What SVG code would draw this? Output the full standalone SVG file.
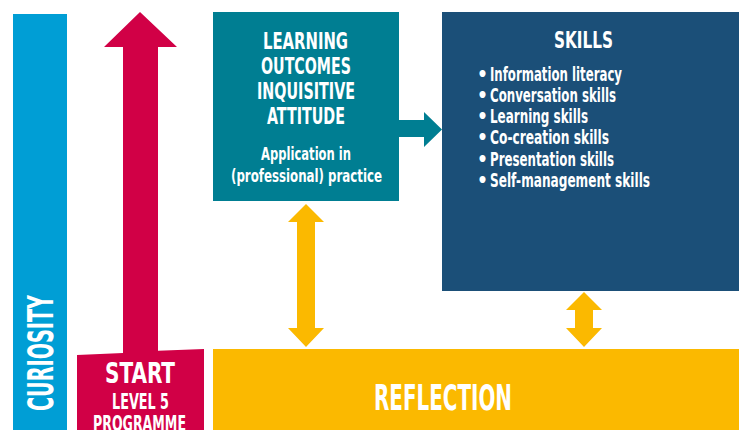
<svg xmlns="http://www.w3.org/2000/svg" width="746" height="430" viewBox="0 0 746 430">
  <style>
    text { font-family: "DejaVu Sans Condensed", "Liberation Sans", Arial, sans-serif; fill: #ffffff; font-weight: bold; }
    .mid { text-anchor: middle; }
    .big { font-size: 35px; }
    .head { font-size: 23px; }
    .sub { font-size: 18px; }
    .item { font-size: 19px; }
    .yellow { fill: #fbb900; }
  </style>

  <!-- Curiosity bar -->
  <g id="curiosity">
    <rect x="13" y="14" width="54" height="416" fill="#009ed5"/>
    <text class="mid big" transform="translate(53 353) rotate(-90)" textLength="116" lengthAdjust="spacingAndGlyphs">CURIOSITY</text>
  </g>

  <!-- Start block with the upward arrow -->
  <g id="start">
    <path d="M140 12 L177 47 L158 47 L158 350.8 L204 349 L204 430 L77 430 L77 355 L123 352.9 L123 47 L104 47 Z" fill="#d10046"/>
    <text class="mid" x="140" y="383" font-size="29" textLength="70" lengthAdjust="spacingAndGlyphs">START</text>
    <text class="mid" x="140.5" y="409" font-size="21" textLength="57" lengthAdjust="spacingAndGlyphs">LEVEL 5</text>
    <text class="mid" x="139.5" y="431" font-size="21" textLength="93" lengthAdjust="spacingAndGlyphs">PROGRAMME</text>
  </g>

  <!-- Learning outcomes -->
  <g id="learning-outcomes">
    <rect x="213" y="12" width="186" height="189" fill="#007e92"/>
    <text class="mid head" x="305.5" y="49" textLength="85" lengthAdjust="spacingAndGlyphs">LEARNING</text>
    <text class="mid head" x="306" y="74" textLength="90" lengthAdjust="spacingAndGlyphs">OUTCOMES</text>
    <text class="mid head" x="306" y="99" textLength="98" lengthAdjust="spacingAndGlyphs">INQUISITIVE</text>
    <text class="mid head" x="306" y="124" textLength="78" lengthAdjust="spacingAndGlyphs">ATTITUDE</text>
    <text class="mid sub" x="306" y="160" textLength="90" lengthAdjust="spacingAndGlyphs">Application in</text>
    <text class="mid sub" x="306.5" y="182" textLength="151" lengthAdjust="spacingAndGlyphs">(professional) practice</text>
  </g>

  <!-- Skills -->
  <g id="skills">
    <rect x="442" y="12" width="297" height="279" fill="#1b4f78"/>
    <text class="mid head" x="583.5" y="48" textLength="59" lengthAdjust="spacingAndGlyphs">SKILLS</text>
    <g class="item">
      <text x="477" y="81">•</text>
      <text x="490" y="81" textLength="132" lengthAdjust="spacingAndGlyphs">Information literacy</text>
      <text x="477" y="102">•</text>
      <text x="490" y="102" textLength="126" lengthAdjust="spacingAndGlyphs">Conversation skills</text>
      <text x="477" y="123">•</text>
      <text x="490" y="123" textLength="98" lengthAdjust="spacingAndGlyphs">Learning skills</text>
      <text x="477" y="144">•</text>
      <text x="490" y="144" textLength="119" lengthAdjust="spacingAndGlyphs">Co-creation skills</text>
      <text x="477" y="166">•</text>
      <text x="490" y="166" textLength="124" lengthAdjust="spacingAndGlyphs">Presentation skills</text>
      <text x="477" y="187">•</text>
      <text x="490" y="187" textLength="160" lengthAdjust="spacingAndGlyphs">Self-management skills</text>
    </g>
  </g>

  <!-- Reflection -->
  <g id="reflection">
    <rect x="213" y="349" width="526" height="81" fill="#fbb900"/>
    <text class="mid big" x="443" y="410" font-size="36" textLength="138" lengthAdjust="spacingAndGlyphs">REFLECTION</text>
  </g>

  <!-- Connectors -->
  <g id="connectors">
    <!-- learning outcomes to skills -->
    <path d="M399 120 L424 120 L424 112 L442 129.5 L424 147 L424 137 L399 137 Z" fill="#007e92"/>
    <!-- learning outcomes and reflection -->
    <path class="yellow" d="M306 204 L324 222 L315 222 L315 328 L324 328 L306 347 L288 328 L297 328 L297 222 L288 222 Z"/>
    <!-- skills and reflection -->
    <path class="yellow" d="M584 292 L602 310 L593 310 L593 328 L602 328 L584 347 L566 328 L575 328 L575 310 L566 310 Z"/>
  </g>
</svg>
